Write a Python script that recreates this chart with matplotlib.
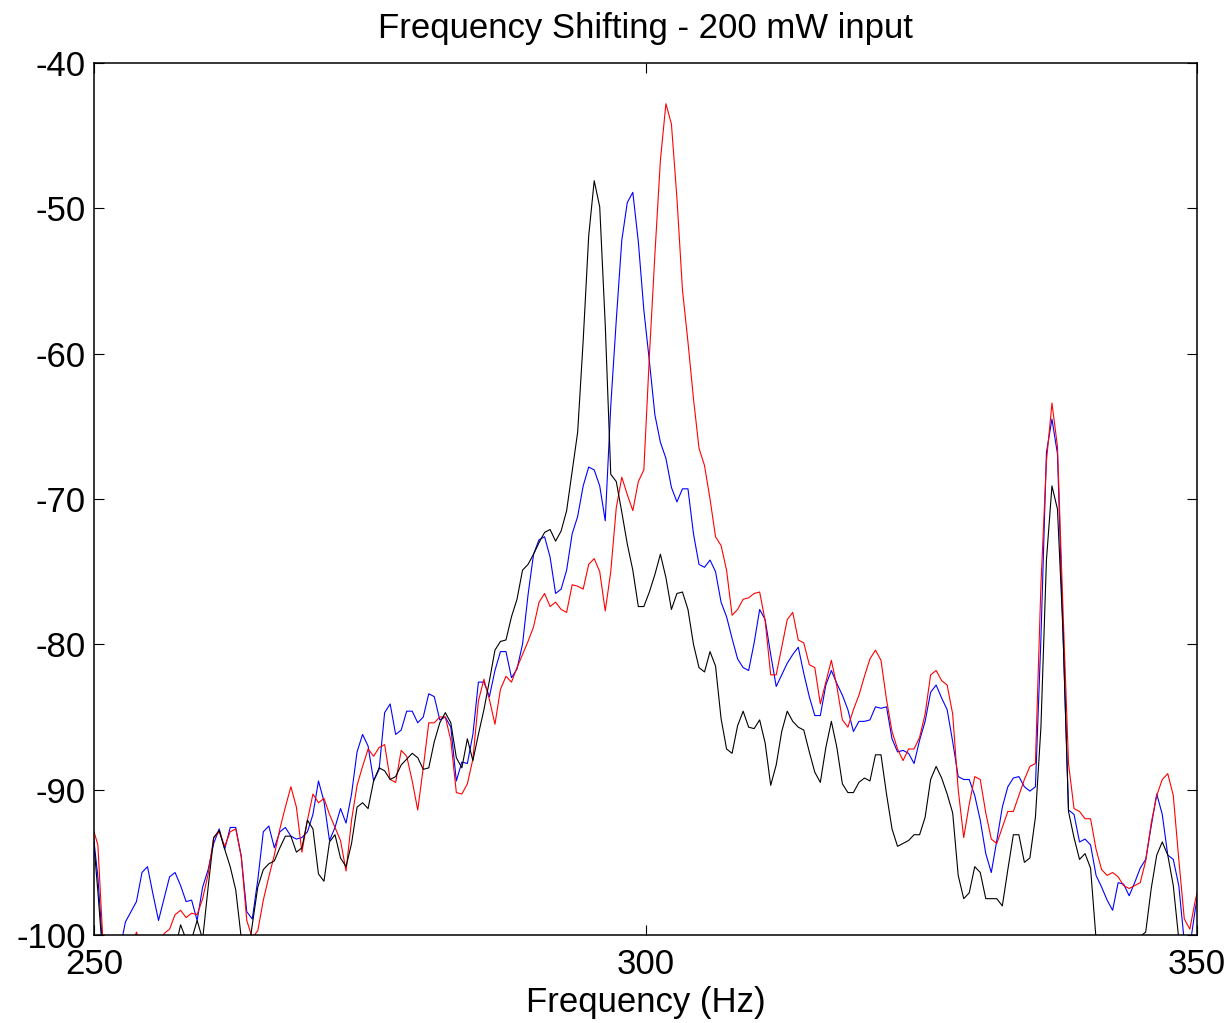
import numpy as np
import matplotlib
matplotlib.use('Agg')
import matplotlib.pyplot as plt

plt.rcParams['font.family'] = ['Liberation Sans', 'DejaVu Sans']
plt.rcParams['axes.unicode_minus'] = False  # matlab style hyphen minus

# spectrum bins, 0.5 Hz apart, first bin just left of 250 Hz
f0 = 249.85
df = 0.5

# three runs of the shifter (dB)
black_db = [
    -92.5, -97.0, -102.0, -103.0, -103.0, -103.0, -103.0, -103.0, -103.0, -103.0,
    -103.0, -103.0, -103.0, -103.0, -102.0, -101.0, -99.3, -100.3, -100.3, -99.0,
    -100.3, -96.7, -93.3, -92.8, -94.1, -95.3, -96.9, -100.2, -102.0, -99.3,
    -96.7, -95.5, -95.1, -94.9, -94.0, -93.2, -93.2, -94.3, -94.0, -92.1,
    -92.7, -95.8, -96.3, -93.6, -93.1, -94.7, -95.3, -93.7, -91.2, -90.9,
    -91.3, -89.4, -88.5, -88.7, -89.3, -89.1, -88.3, -87.9, -87.5, -87.8,
    -88.6, -88.5, -86.7, -85.4, -84.7, -85.4, -87.8, -88.5, -86.5, -88.0,
    -86.2, -84.5, -82.5, -80.4, -79.8, -79.7, -78.1, -76.9, -74.9, -74.5,
    -73.8, -73.0, -72.3, -72.1, -72.9, -72.2, -70.8, -68.1, -65.4, -59.1,
    -51.9, -48.1, -49.9, -58.0, -68.3, -68.8, -70.9, -73.1, -74.9, -77.4,
    -77.4, -76.4, -75.2, -73.8, -75.4, -77.6, -76.5, -76.4, -77.6, -80.0,
    -81.6, -81.9, -80.5, -81.5, -85.1, -87.2, -87.5, -85.6, -84.6, -85.7,
    -85.8, -85.2, -86.8, -89.7, -88.3, -86.0, -84.6, -85.3, -85.7, -85.9,
    -87.4, -88.8, -89.5, -87.1, -85.3, -87.1, -89.6, -90.2, -90.2, -89.5,
    -89.2, -89.4, -87.6, -87.6, -90.3, -92.7, -93.9, -93.7, -93.5, -93.1,
    -93.1, -91.9, -89.3, -88.4, -89.2, -90.3, -91.6, -95.9, -97.5, -97.1,
    -95.3, -95.7, -97.5, -97.5, -97.5, -98.0, -95.5, -93.1, -93.1, -95.0,
    -94.7, -91.9, -85.7, -74.2, -69.1, -70.7, -79.1, -91.5, -93.3, -94.8,
    -94.4, -95.4, -100.3, -102.0, -103.0, -103.0, -103.0, -103.0, -102.0, -101.0,
    -100.1, -99.8, -96.8, -94.5, -93.6, -94.5, -96.6, -100.3, -102.0, -103.0,
    -103.0, -103.0]

blue_db = [
    -92.5, -96.0, -101.5, -103.0, -103.0, -101.0, -99.1, -98.4, -97.7, -95.7,
    -95.3, -97.2, -99.0, -97.5, -96.0, -95.7, -96.6, -97.7, -97.6, -99.0,
    -96.7, -95.5, -93.7, -92.7, -94.1, -92.6, -92.6, -94.6, -98.4, -98.9,
    -96.2, -92.9, -92.5, -94.0, -92.9, -92.6, -93.2, -93.4, -93.3, -92.9,
    -91.7, -89.4, -90.8, -93.5, -92.6, -91.3, -92.3, -90.3, -87.4, -86.2,
    -87.0, -89.4, -88.6, -84.7, -84.1, -86.2, -85.9, -84.6, -84.6, -85.4,
    -85.0, -83.4, -83.6, -85.2, -85.0, -85.7, -89.4, -88.1, -88.2, -86.2,
    -82.6, -82.6, -83.6, -81.8, -80.5, -80.5, -82.3, -81.7, -80.0, -76.6,
    -73.8, -72.8, -72.6, -74.0, -76.5, -76.2, -74.9, -72.4, -71.2, -69.1,
    -67.8, -68.0, -69.1, -71.5, -63.6, -57.7, -52.2, -49.6, -48.9, -52.3,
    -57.0, -60.5, -64.2, -66.1, -67.2, -69.2, -70.2, -69.3, -69.3, -72.4,
    -74.5, -74.7, -74.2, -75.0, -77.1, -78.1, -79.6, -81.0, -81.6, -81.8,
    -79.9, -77.6, -78.3, -80.7, -82.9, -82.1, -81.3, -80.7, -80.2, -82.0,
    -83.6, -84.9, -84.9, -82.8, -81.8, -82.7, -83.5, -84.5, -86.0, -85.3,
    -85.3, -85.2, -84.3, -84.4, -84.3, -86.5, -87.4, -87.3, -87.5, -88.2,
    -86.6, -85.3, -83.3, -82.8, -83.7, -84.5, -86.7, -89.1, -89.3, -89.3,
    -90.4, -92.1, -94.4, -95.7, -93.5, -91.2, -89.8, -89.2, -89.1, -89.8,
    -90.1, -89.8, -79.6, -66.8, -64.5, -66.9, -79.1, -91.4, -91.7, -93.6,
    -93.4, -93.8, -95.9, -96.7, -97.6, -98.3, -96.4, -96.5, -97.3, -96.4,
    -95.4, -94.8, -92.5, -90.3, -91.7, -94.5, -94.8, -96.6, -100.5, -100.8,
    -98.2, -96.0]

red_db = [
    -92.5, -93.8, -101.0, -103.0, -103.0, -103.0, -102.0, -101.0, -99.8, -101.0,
    -102.0, -102.0, -101.0, -99.9, -99.6, -98.6, -98.3, -98.8, -98.5, -98.6,
    -97.5, -95.8, -93.3, -92.9, -93.9, -92.9, -92.7, -94.6, -99.0, -100.2,
    -99.7, -97.6, -96.0, -94.5, -92.7, -91.2, -89.8, -91.2, -94.3, -92.1,
    -90.3, -90.9, -90.6, -91.7, -92.6, -93.5, -95.6, -92.1, -89.7, -88.4,
    -87.2, -87.7, -87.1, -86.9, -89.3, -89.5, -87.3, -87.7, -89.4, -91.4,
    -88.5, -85.4, -85.4, -85.0, -85.0, -86.6, -90.2, -90.3, -89.6, -87.9,
    -83.9, -82.4, -83.8, -85.5, -83.1, -82.2, -82.6, -81.6, -80.7, -79.8,
    -78.8, -77.1, -76.5, -77.4, -77.1, -77.6, -77.8, -75.9, -76.0, -76.2,
    -74.5, -74.1, -75.0, -77.7, -75.0, -70.6, -68.5, -69.7, -70.8, -68.8,
    -68.0, -60.2, -53.2, -46.7, -42.8, -44.2, -49.3, -55.6, -59.2, -63.1,
    -66.5, -67.7, -70.0, -72.6, -73.2, -74.9, -78.0, -77.6, -76.9, -76.8,
    -76.5, -76.4, -78.4, -82.1, -82.1, -80.2, -78.3, -77.8, -79.7, -79.9,
    -81.4, -81.6, -84.1, -82.6, -81.1, -82.9, -85.2, -85.7, -84.5, -83.5,
    -82.2, -81.0, -80.4, -81.1, -83.8, -86.0, -87.2, -88.0, -87.2, -87.2,
    -86.4, -84.8, -82.1, -81.8, -82.5, -82.8, -84.8, -90.0, -93.3, -91.0,
    -89.1, -89.3, -91.6, -93.4, -93.7, -92.6, -91.5, -91.5, -90.4, -89.3,
    -88.4, -88.2, -75.9, -67.4, -63.4, -66.4, -77.6, -88.2, -91.3, -91.5,
    -92.0, -92.0, -94.1, -95.5, -95.9, -95.7, -96.0, -96.6, -96.8, -96.6,
    -96.4, -94.9, -92.3, -90.4, -89.3, -88.9, -90.4, -94.8, -98.9, -99.6,
    -97.6, -96.0]

freq = f0 + df * np.arange(len(black_db))

xticks = [250, 300, 350]
yticks = [-100, -90, -80, -70, -60, -50, -40]

fig = plt.figure(figsize=(12.32, 10.23), dpi=100)
ax = fig.add_axes([94 / 1232, 1 - 935 / 1023, (1197 - 94) / 1232, (935 - 63) / 1023])

ax.plot(freq, blue_db, color='b', lw=0.8)
ax.plot(freq, red_db, color='r', lw=0.8)
ax.plot(freq, black_db, color='k', lw=0.8)

ax.set_xlim(250, 350)
ax.set_ylim(-100, -40)
ax.set_xticks(xticks)
ax.set_yticks(yticks)

# matlab look: box on, ticks inside on every side
ax.tick_params(direction='in', length=7, width=0.8, top=True, right=True,
               labelsize=25)
ax.tick_params(axis='x', pad=9)
ax.tick_params(axis='y', pad=6)
for s in ax.spines.values():
    s.set_linewidth(1.1)

ax.set_title('Frequency Shifting - 200 mW input', fontsize=25, pad=18)
ax.set_xlabel('Frequency (Hz)', fontsize=25, labelpad=4)

fig.savefig('out.png', dpi=100)
